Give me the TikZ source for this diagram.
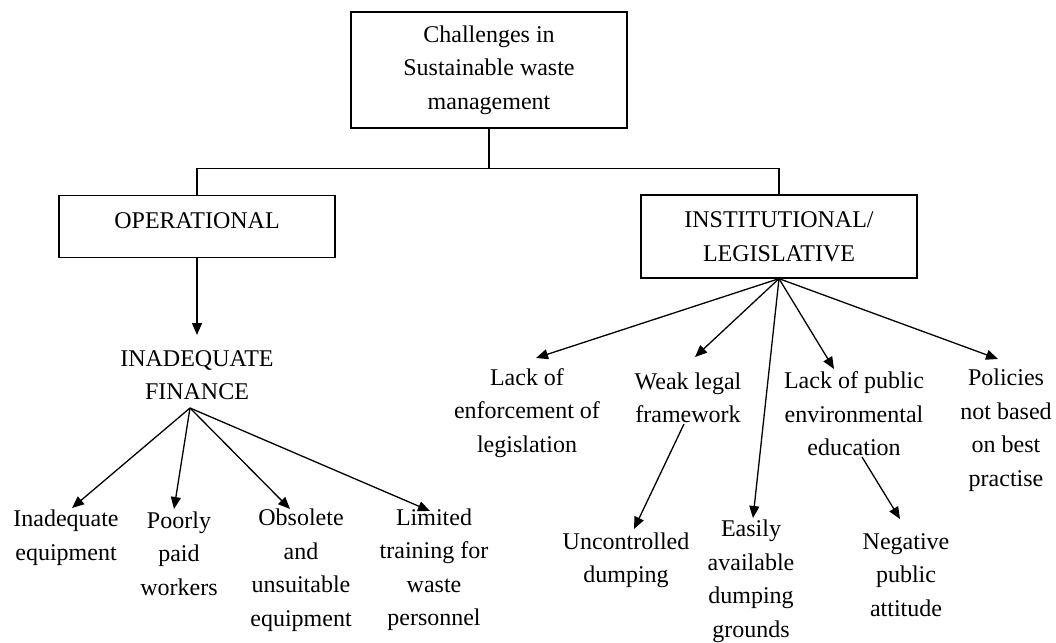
\documentclass[tikz,border=0pt]{standalone}
\usepackage{fontspec}
\setmainfont{Liberation Serif}
\usetikzlibrary{arrows.meta}
\begin{document}
\begin{tikzpicture}[x=1pt, y=-1pt, line width=1.3pt,
    txt/.style={font=\fontsize{24}{33.5}\selectfont, align=center, inner sep=0pt},
    box/.style={txt, draw, minimum width=276pt},
    arr/.style={-{Triangle[length=12pt,width=10pt]}}]
\useasboundingbox (0,0) rectangle (1056,642);
% boxes
\node[box, minimum height=116pt] (top) at (489,70) {Challenges in\\Sustainable waste\\management};
\node[box, anchor=north, text height=32.6pt, text depth=29.4pt] (op) at (197,195) {OPERATIONAL};
\node[box, minimum height=83pt] (inst) at (779,236.5) {INSTITUTIONAL/\\LEGISLATIVE};
\draw (top.south) -- ++(0,40) -| (op.north);
\draw (top.south) -- ++(0,40) -| (inst.north);
% operational side
\node[txt] (fin)   at (197,375)   {INADEQUATE\\FINANCE};
\node[txt] (eq)    at (66,537.5)  {Inadequate\\equipment};
\node[txt] (paid)  at (179,553.5) {Poorly\\paid\\workers};
\node[txt] (obs)   at (301,570)   {Obsolete\\and\\unsuitable\\equipment};
\node[txt] (train) at (434,569.5) {Limited\\training for\\waste\\personnel};
\coordinate (finout) at ([xshift=-7pt,yshift=-33pt]fin.center);
\draw[arr] (op.south) -- ([yshift=40pt]fin.center);
\path[arr]
    (finout) edge ([xshift=6pt,yshift=29.5pt]eq.center)
    (finout) edge ([xshift=-5pt,yshift=44.5pt]paid.center)
    (finout) edge ([xshift=-11pt,yshift=61pt]obs.center)
    (finout) edge ([xshift=-4pt,yshift=58.5pt]train.center);
% institutional side
\node[txt] (enf)  at (527,413)   {Lack of\\enforcement of\\legislation};
\node[txt] (weak) at (688,398)   {Weak legal\\framework};
\node[txt] (pub)  at (854,414)   {Lack of public\\environmental\\education};
\node[txt] (pol)  at (1006,430)  {Policies\\not based\\on best\\practise};
\node[txt] (unc)  at (626,560.5) {Uncontrolled\\dumping};
\node[txt] (easy) at (751,581.5) {Easily\\available\\dumping\\grounds};
\node[txt] (neg)  at (906,575)   {Negative\\public\\attitude};
\path[arr]
    (inst.south) edge ([xshift=9pt,yshift=55pt]enf.center)
    (inst.south) edge ([xshift=7pt,yshift=41pt]weak.center)
    (inst.south) edge ([xshift=2pt,yshift=63.5pt]easy.center)
    (inst.south) edge ([xshift=-20pt,yshift=45pt]pub.center)
    (inst.south) edge ([xshift=-8pt,yshift=71pt]pol.center)
    ([xshift=-4pt,yshift=-26pt]weak.center) edge ([xshift=8pt,yshift=31.5pt]unc.center)
    ([xshift=8pt,yshift=-43pt]pub.center) edge ([xshift=-6pt,yshift=56pt]neg.center);
\end{tikzpicture}
\end{document}
